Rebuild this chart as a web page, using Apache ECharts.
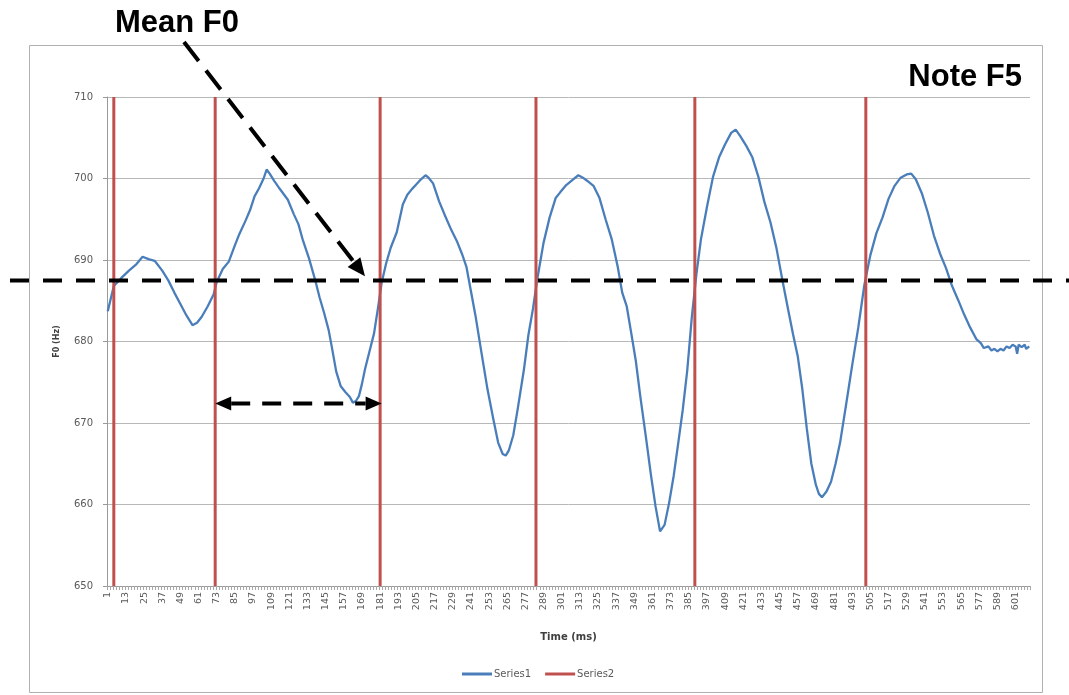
<!DOCTYPE html>
<html>
<head>
<meta charset="utf-8">
<script src="https://cdn.jsdelivr.net/npm/echarts@6/dist/echarts.min.js"></script>
<style>
html,body{margin:0;padding:0;background:#fff;}
#chart{width:1069px;height:695px;}
</style>
</head>
<body>
<div id="chart"></div>
<script>
// ---- data ----
const categoryCount = 610;                        // time categories 1..610 ms
const categories = Array.from({length: categoryCount}, (_, i) => String(i + 1));
const yTicks = [650, 660, 670, 680, 690, 700, 710];

const timeMs = [1,5,10,15,20,24,28,32,37,41,45,49,53,57,60,63,67,71,73,77,81,85,88,92,95,98,101,104,106,108,111,114,116,120,124,127,130,134,138,141,144,147,149,152,155,158,161,163,165,167,169,171,174,177,180,182,185,188,192,196,199,202,205,208,211,213,216,220,224,228,232,235,238,241,244,248,252,256,259,262,264,266,269,272,276,279,282,285,289,293,297,300,304,308,312,315,318,322,326,330,334,338,341,344,347,350,353,357,360,363,366,369,372,375,378,381,384,387,390,393,397,401,405,409,413,416,419,423,427,431,435,439,443,447,451,454,457,460,463,466,469,471,473,476,479,482,485,489,493,497,501,505,509,513,517,521,525,529,532,535,539,543,547,551,555,559,563,567,571,575,578,580,583,585,587,589,591,593,595,597,599,601,602,603,605,607,608,610];
const f0Hz = [683.7,686.8,687.8,688.7,689.5,690.4,690.1,689.9,688.7,687.5,686.0,684.6,683.2,682.0,682.3,683.0,684.3,685.8,687.3,688.9,689.8,691.8,693.2,694.8,696.1,697.8,698.8,700.0,701.1,700.6,699.7,698.9,698.4,697.4,695.6,694.4,692.4,690.2,687.6,685.4,683.5,681.4,679.4,676.3,674.5,673.8,673.2,672.5,672.7,673.3,674.8,676.6,678.8,681.0,684.6,687.2,689.6,691.5,693.4,696.8,698.0,698.7,699.3,699.9,700.4,700.1,699.4,697.2,695.4,693.7,692.2,690.8,689.2,686.2,683.2,678.6,674.1,670.3,667.6,666.2,666.0,666.6,668.5,671.8,676.5,680.8,684.0,687.8,692.1,695.2,697.6,698.3,699.2,699.8,700.4,700.1,699.7,699.1,697.6,695.0,692.6,689.2,686.0,684.3,681.0,677.6,673.2,667.8,663.6,659.8,656.7,657.5,660.2,663.5,667.5,671.6,676.5,683.0,688.2,692.5,696.5,700.2,702.6,704.2,705.6,706.0,705.2,704.0,702.6,700.2,697.1,694.6,691.4,687.4,683.6,680.8,678.2,674.2,669.3,665.0,662.4,661.3,660.9,661.6,662.8,665.0,667.6,672.3,677.1,681.7,686.9,690.6,693.3,695.2,697.5,699.1,700.1,700.5,700.6,699.9,698.2,695.8,693.0,690.8,689.0,686.8,685.1,683.3,681.7,680.3,679.8,679.2,679.4,678.9,679.1,678.8,679.1,678.9,679.4,679.2,679.6,679.4,678.5,679.6,679.3,679.6,679.1,679.4];

const markerTimes = [5, 72, 181, 284, 389, 502];  // Series2 vertical lines (ms)
const meanF0 = 687.5;
const periodStart = 72, periodEnd = 182, periodArrowHz = 672.4;
const meanArrowEnd = [171, 688.0];

// ---- build series ----
const series1Data = timeMs.map((t, i) => [t - 1, f0Hz[i]]);
const series2Data = [];
markerTimes.forEach(t => {
  series2Data.push([t - 1, 650], [t - 1, 710], [t - 1, '-']);
});

const chart = echarts.init(document.getElementById('chart'), null, {renderer: 'canvas'});
const FONT = 'DejaVu Sans';
chart.setOption({
  animation: false,
  backgroundColor: '#ffffff',
  title: [
    {text: 'Mean F0', left: 110, top: 3,
     textStyle: {fontFamily: 'Liberation Sans', fontWeight: 'bold', fontSize: 31, color: '#000'}},
    {text: 'Note F5', right: 42, top: 57,
     textStyle: {fontFamily: 'Liberation Sans', fontWeight: 'bold', fontSize: 31, color: '#000'}}
  ],
  grid: {left: 107, right: 39, top: 97, bottom: 109, containLabel: false},
  legend: {
    left: 457, top: 664, icon: 'rect', itemWidth: 30, itemHeight: 3, itemGap: 14,
    textStyle: {fontFamily: FONT, fontSize: 10, color: '#595959', padding: [0, 0, 0, -3]},
    data: ['Series1', 'Series2']
  },
  xAxis: {
    type: 'category', data: categories, boundaryGap: true,
    name: 'Time (ms)', nameLocation: 'middle', nameGap: 46,
    nameTextStyle: {fontFamily: FONT, fontSize: 10, fontWeight: 'bold', color: '#404040'},
    axisLine: {lineStyle: {color: '#9a9a9a', width: 1}},
    axisTick: {show: true, interval: 1, length: 4, lineStyle: {color: '#a8a8a8'}},
    axisLabel: {interval: 11, rotate: 90, margin: 6, fontFamily: FONT, fontSize: 9.5, color: '#595959'},
    splitLine: {show: false}
  },
  yAxis: {
    type: 'value', min: 650, max: 710, interval: 10,
    name: 'F0 (Hz)', nameLocation: 'middle', nameGap: 46, nameRotate: 90,
    nameTextStyle: {fontFamily: FONT, fontSize: 8, fontWeight: 'bold', color: '#404040'},
    axisLine: {show: true, lineStyle: {color: '#9a9a9a'}},
    axisTick: {show: true, length: 4, lineStyle: {color: '#9a9a9a'}},
    axisLabel: {margin: 14, fontFamily: FONT, fontSize: 10, color: '#595959',
      formatter: v => yTicks.includes(v) ? String(v) : ''},
    splitLine: {show: true, lineStyle: {color: '#b8b8b8', width: 1}}
  },
  series: [
    {name: 'Series1', type: 'line', data: series1Data, showSymbol: false, symbol: 'none',
     lineStyle: {color: '#4A7EBB', width: 2.3}, itemStyle: {color: '#4A7EBB'}, z: 2},
    {name: 'Series2', type: 'line', data: series2Data, showSymbol: false, symbol: 'none',
     connectNulls: false,
     lineStyle: {color: '#C0504D', width: 3}, itemStyle: {color: '#C0504D'}, z: 3}
  ]
});

// ---- annotations positioned from the axes ----
function px(t, v) { return chart.convertToPixel({gridIndex: 0}, [t - 1, v]); }
function head(tip, from, len, half) {
  const dx = tip[0] - from[0], dy = tip[1] - from[1];
  const L = Math.hypot(dx, dy), ux = dx / L, uy = dy / L;
  const bx = tip[0] - ux * len, by = tip[1] - uy * len;
  return {base: [bx, by], pts: [tip, [bx - uy * half, by + ux * half], [bx + uy * half, by - ux * half]]};
}
const meanY = px(1, meanF0)[1];
const aEnd = px(meanArrowEnd[0], meanArrowEnd[1]);
const aStart = [184, 42];
const h1 = head(aEnd, aStart, 18, 8);
const pL = px(periodStart, periodArrowHz), pR = px(periodEnd, periodArrowHz);
const hL = head(pL, pR, 16, 7), hR = head(pR, pL, 16, 7);
const dashStyle = {stroke: '#000', lineWidth: 4, lineDash: [19, 14], fill: null};
chart.setOption({
  graphic: [
    {type: 'rect', z: -10, silent: true, shape: {x: 29.5, y: 45.5, width: 1013, height: 647},
     style: {stroke: '#b0b0b0', lineWidth: 1, fill: null}},
    {type: 'line', z: 100, shape: {x1: 10, y1: meanY, x2: 1069, y2: meanY}, style: dashStyle},
    {type: 'line', z: 100, shape: {x1: aStart[0], y1: aStart[1], x2: h1.base[0], y2: h1.base[1]},
     style: {stroke: '#000', lineWidth: 4, lineDash: [24, 12]}},
    {type: 'polygon', z: 100, shape: {points: h1.pts}, style: {fill: '#000'}},
    {type: 'line', z: 100, shape: {x1: hL.base[0], y1: pL[1], x2: hR.base[0], y2: pR[1]},
     style: {stroke: '#000', lineWidth: 4, lineDash: [19, 12]}},
    {type: 'polygon', z: 100, shape: {points: hL.pts}, style: {fill: '#000'}},
    {type: 'polygon', z: 100, shape: {points: hR.pts}, style: {fill: '#000'}}
  ]
});
</script>
</body>
</html>
